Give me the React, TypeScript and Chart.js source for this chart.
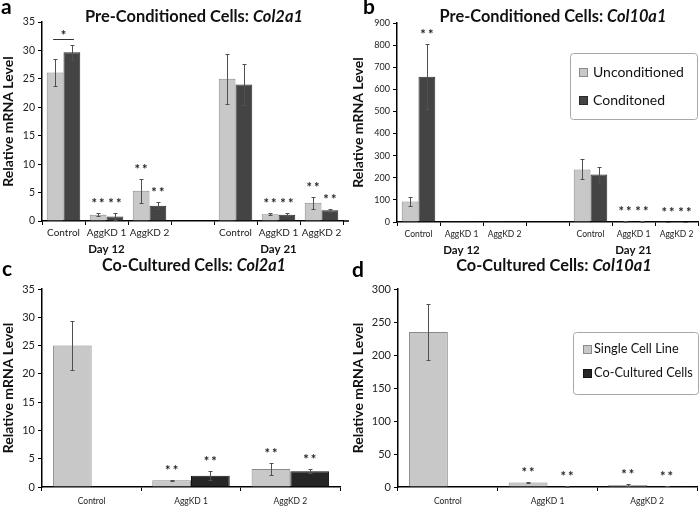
import React, { useEffect, useRef } from "react";
import { Chart, registerables } from "chart.js";
Chart.register(...registerables);

const FONT = "Lato, 'Open Sans', sans-serif";

// ---------- Panel a: Pre-Conditioned Cells, Col2a1 ----------
const dayCats = ["Control", "AggKD 1", "AggKD 2", "", "Control", "AggKD 1", "AggKD 2"];
const aUncond = [26.1, 1.1, 5.3, null, 25.0, 1.2, 3.2];
const aUncondErr = [2.4, 0.3, 2.1, null, 4.4, 0.15, 1.1];
const aCond = [29.7, 0.8, 2.7, null, 24.0, 1.1, 1.9];
const aCondErr = [1.3, 0.6, 0.6, null, 3.6, 0.3, 0.25];
const aUncondStars = ["", "**", "**", "", "", "**", "**"];
const aCondStars = ["", "**", "**", "", "", "**", "**"];

// ---------- Panel b: Pre-Conditioned Cells, Col10a1 ----------
const bUncond = [93, 1.2, 0.8, null, 238, 3.0, 1.2];
const bUncondErr = [20, 0, 0, null, 45, 1.0, 0.4];
const bCond = [657, 0.8, 0.6, null, 215, 2.4, 1.0];
const bCondErr = [148, 0, 0, null, 33, 0.6, 0.3];
const bUncondStars = ["", "", "", "", "", "**", "**"];
const bCondStars = ["**", "", "", "", "", "**", "**"];

const dayLabels = ["Day 12", "Day 21"];
const dayLabelIndex = [1, 5];

// ---------- Panel c: Co-Cultured Cells, Col2a1 ----------
const coCats = ["Control", "AggKD 1", "AggKD 2"];
const cSingle = [25.0, 1.2, 3.2];
const cSingleErr = [4.3, 0.1, 1.0];
const cCo = [null, 2.0, 2.8];
const cCoErr = [null, 0.8, 0.4];
const cSingleStars = ["", "**", "**"];
const cCoStars = ["", "**", "**"];

// ---------- Panel d: Co-Cultured Cells, Col10a1 ----------
const dSingle = [235, 7.0, 3.0];
const dSingleErr = [43, 1.2, 1.2];
const dCo = [null, 0.6, 1.5];
const dCoErr = [null, 0.3, 0.3];
const dSingleStars = ["", "**", "**"];
const dCoStars = ["", "**", "**"];

const LIGHT = "#c8c8c8";
const LIGHT_B = "#8a8a8a";
const DARK_AB = "#444444";
const DARK_AB_B = "#2a2a2a";
const DARK_CD = "#262626";
const DARK_CD_B = "#111111";

type Series = {
  label: string;
  data: (number | null)[];
  err: (number | null)[];
  stars: string[];
  fill: string;
  border: string;
};

type PanelCfg = {
  x: number; y: number; w: number; h: number;
  plot: { l: number; r: number; t: number; b: number };
  labels: string[];
  series: Series[];
  yMax: number; yStep: number;
  yTickSize: number; xTickSize: number; xTickPad: number;
  title: [string, string]; titleX: number; titleY: number; titleW: number;
  letter: string; letterX: number; letterY: number;
  legend?: { x: number; y: number; w: number; h: number; textW: number; rows: number[]; sw: number; tx: number };
  days?: boolean;
  bracket?: boolean;
  axisExtend?: number;
};

function makeDecor(cfg: PanelCfg) {
  return {
    id: "decor",
    afterDatasetsDraw(chart: any) {
      const ctx = chart.ctx;
      const ys = chart.scales.y;
      ctx.save();
      cfg.series.forEach((s, i) => {
        const meta = chart.getDatasetMeta(i);
        meta.data.forEach((el: any, j: number) => {
          const v = s.data[j];
          const e = s.err[j];
          if (v == null || e == null || e === 0) return;
          const px = Math.round(el.x) + 0.5;
          const yt = Math.round(ys.getPixelForValue(v + e)) + 0.5;
          const yb = Math.round(ys.getPixelForValue(Math.max(0, v - e))) + 0.5;
          ctx.strokeStyle = "#505050";
          ctx.lineWidth = 1;
          ctx.beginPath();
          ctx.moveTo(px, yt); ctx.lineTo(px, yb);
          ctx.moveTo(px - 2, yt); ctx.lineTo(px + 2, yt);
          ctx.moveTo(px - 2, yb); ctx.lineTo(px + 2, yb);
          ctx.stroke();
        });
      });
      // significance stars
      ctx.fillStyle = "#222";
      ctx.font = `bold 13px ${FONT}`;
      ctx.textAlign = "center";
      ctx.textBaseline = "alphabetic";
      try { (ctx as any).letterSpacing = "2px"; } catch (e) {}
      cfg.series.forEach((s, i) => {
        const meta = chart.getDatasetMeta(i);
        meta.data.forEach((el: any, j: number) => {
          if (!s.stars[j]) return;
          const v = s.data[j] ?? 0;
          const e = s.err[j] ?? 0;
          const top = ys.getPixelForValue(v + e);
          ctx.fillText(s.stars[j], el.x + 1, top - 5);
        });
      });
      try { (ctx as any).letterSpacing = "0px"; } catch (e) {}
      ctx.restore();
    },
    afterDraw(chart: any) {
      const ctx = chart.ctx;
      const xs = chart.scales.x;
      const ys = chart.scales.y;
      const area = chart.chartArea;
      ctx.save();
      // title (bold + bold italic), sized to the reference width
      ctx.fillStyle = "#111";
      ctx.textBaseline = "middle";
      ctx.textAlign = "left";
      const measure = (size: number) => {
        ctx.font = `bold ${size}px ${FONT}`;
        const a = ctx.measureText(cfg.title[0]).width;
        ctx.font = `italic bold ${size}px ${FONT}`;
        const b = ctx.measureText(cfg.title[1]).width;
        return [a, b];
      };
      const [m1, m2] = measure(20);
      const tSize = (20 * cfg.titleW) / (m1 + m2);
      const [w1, w2] = measure(tSize);
      const sx = cfg.titleX - (w1 + w2) / 2;
      ctx.font = `bold ${tSize}px ${FONT}`;
      ctx.fillText(cfg.title[0], sx, cfg.titleY);
      ctx.font = `italic bold ${tSize}px ${FONT}`;
      ctx.fillText(cfg.title[1], sx + w1, cfg.titleY);
      // panel letter
      ctx.font = `bold 21px ${FONT}`;
      ctx.textBaseline = "alphabetic";
      ctx.fillStyle = "#000";
      ctx.fillText(cfg.letter, cfg.letterX, cfg.letterY);
      // axis extension
      if (cfg.axisExtend) {
        ctx.strokeStyle = "#000";
        ctx.lineWidth = 1.5;
        ctx.beginPath();
        ctx.moveTo(area.right, area.bottom);
        ctx.lineTo(area.right + cfg.axisExtend, area.bottom);
        ctx.stroke();
      }
      // day labels
      if (cfg.days) {
        ctx.font = `bold 11.5px ${FONT}`;
        ctx.textAlign = "center";
        ctx.textBaseline = "middle";
        ctx.fillStyle = "#111";
        dayLabels.forEach((t, k) => {
          ctx.fillText(t, xs.getPixelForValue(dayLabelIndex[k]), area.bottom + 28);
        });
      }
      // bracket
      if (cfg.bracket) {
        const m0 = chart.getDatasetMeta(0).data[0];
        const mb = chart.getDatasetMeta(1).data[0];
        const s0 = cfg.series[0], s1 = cfg.series[1];
        const top = Math.min(
          ys.getPixelForValue((s0.data[0] ?? 0) + (s0.err[0] ?? 0)),
          ys.getPixelForValue((s1.data[0] ?? 0) + (s1.err[0] ?? 0))
        );
        const ly = Math.round(top - 6) + 0.5;
        ctx.strokeStyle = "#333";
        ctx.lineWidth = 1;
        ctx.beginPath();
        ctx.moveTo(m0.x - 2, ly);
        ctx.lineTo(mb.x + 2, ly);
        ctx.stroke();
        ctx.font = `bold 13px ${FONT}`;
        ctx.textAlign = "center";
        ctx.textBaseline = "alphabetic";
        ctx.fillStyle = "#222";
        ctx.fillText("*", (m0.x + mb.x) / 2, ly);
      }
      // legend
      if (cfg.legend) {
        const L = cfg.legend;
        ctx.fillStyle = "#fff";
        ctx.strokeStyle = "#a8a8a8";
        ctx.lineWidth = 1;
        ctx.beginPath();
        (ctx as any).roundRect(L.x + 0.5, L.y + 0.5, L.w, L.h, 3);
        ctx.fill();
        ctx.stroke();
        ctx.font = `20px ${FONT}`;
        const longest = Math.max(...cfg.series.map((s) => ctx.measureText(s.label).width));
        const fSize = (20 * L.textW) / longest;
        ctx.font = `${fSize}px ${FONT}`;
        ctx.textAlign = "left";
        ctx.textBaseline = "middle";
        cfg.series.forEach((s, i) => {
          const ry = L.y + L.rows[i];
          ctx.fillStyle = s.fill;
          ctx.strokeStyle = s.border;
          ctx.fillRect(L.x + L.sw, ry - 4, 9, 9);
          ctx.strokeRect(L.x + L.sw + 0.5, ry - 3.5, 8, 8);
          ctx.fillStyle = "#111";
          ctx.fillText(s.label, L.x + L.tx, ry);
        });
      }
      ctx.restore();
    },
  };
}

function Panel({ cfg }: { cfg: PanelCfg }) {
  const ref = useRef<HTMLCanvasElement | null>(null);
  useEffect(() => {
    if (!ref.current) return;
    const chart = new Chart(ref.current, {
      type: "bar",
      data: {
        labels: cfg.labels,
        datasets: cfg.series.map((s) => ({
          label: s.label,
          data: s.data as any,
          backgroundColor: s.fill,
          borderColor: s.border,
          borderWidth: 1,
          categoryPercentage: 0.78,
          barPercentage: 1.0,
        })),
      },
      options: {
        responsive: false,
        animation: false,
        devicePixelRatio: 1,
        layout: {
          padding: { left: 0, top: cfg.plot.t, right: cfg.w - cfg.plot.r, bottom: 0 },
        },
        plugins: {
          legend: { display: false },
          title: { display: false },
          tooltip: { enabled: false },
        },
        scales: {
          x: {
            grid: { display: true, drawOnChartArea: false, drawTicks: true, tickLength: 4, color: "#000", offset: true },
            border: { display: true, color: "#000", width: 1.5 },
            ticks: {
              font: { family: FONT, size: cfg.xTickSize },
              color: "#222",
              padding: cfg.xTickPad,
              maxRotation: 0,
              autoSkip: false,
            },
            afterFit: (s: any) => { s.height = cfg.h - cfg.plot.b; },
          },
          y: {
            min: 0,
            max: cfg.yMax,
            grid: { display: true, drawOnChartArea: false, drawTicks: true, tickLength: 4, color: "#000" },
            border: { display: true, color: "#000", width: 1.5 },
            ticks: {
              stepSize: cfg.yStep,
              font: { family: FONT, size: cfg.yTickSize },
              color: "#222",
              padding: 3,
            },
            title: {
              display: true,
              text: "Relative mRNA Level",
              font: { family: FONT, size: 14, weight: "bold" },
              color: "#111",
              padding: { top: 0, bottom: 0 },
            },
            afterFit: (s: any) => { s.width = cfg.plot.l; },
          },
        },
      },
      plugins: [makeDecor(cfg)],
    } as any);
    return () => chart.destroy();
  }, []);
  return (
    <canvas
      ref={ref}
      width={cfg.w}
      height={cfg.h}
      style={{ position: "absolute", left: cfg.x, top: cfg.y, width: cfg.w, height: cfg.h }}
    />
  );
}

const panelA: PanelCfg = {
  x: 0, y: 0, w: 350, h: 262,
  plot: { l: 42, r: 343, t: 22, b: 221 },
  labels: dayCats,
  series: [
    { label: "Unconditioned", data: aUncond, err: aUncondErr, stars: aUncondStars, fill: LIGHT, border: LIGHT_B },
    { label: "Conditoned", data: aCond, err: aCondErr, stars: aCondStars, fill: DARK_AB, border: DARK_AB_B },
  ],
  yMax: 35, yStep: 5, yTickSize: 10.5, xTickSize: 10, xTickPad: 2,
  title: ["Pre-Conditioned Cells: ", "Col2a1"], titleX: 194, titleY: 17, titleW: 218,
  letter: "a", letterX: 1, letterY: 14,
  days: true, bracket: true, axisExtend: 6,
};

const panelB: PanelCfg = {
  x: 350, y: 0, w: 350, h: 262,
  plot: { l: 47, r: 348, t: 23, b: 222 },
  labels: dayCats,
  series: [
    { label: "Unconditioned", data: bUncond, err: bUncondErr, stars: bUncondStars, fill: LIGHT, border: LIGHT_B },
    { label: "Conditoned", data: bCond, err: bCondErr, stars: bCondStars, fill: DARK_AB, border: DARK_AB_B },
  ],
  yMax: 900, yStep: 100, yTickSize: 9, xTickSize: 8.5, xTickPad: 3,
  title: ["Pre-Conditioned Cells: ", "Col10a1"], titleX: 203, titleY: 17, titleW: 227,
  letter: "b", letterX: 13, letterY: 14,
  legend: { x: 220, y: 53, w: 127, h: 66, textW: 91, rows: [19, 47], sw: 9, tx: 23 },
  days: true,
};

const panelC: PanelCfg = {
  x: 0, y: 250, w: 350, h: 258,
  plot: { l: 42, r: 340, t: 39, b: 237 },
  labels: coCats,
  series: [
    { label: "Single Cell Line", data: cSingle, err: cSingleErr, stars: cSingleStars, fill: LIGHT, border: LIGHT_B },
    { label: "Co-Cultured Cells", data: cCo, err: cCoErr, stars: cCoStars, fill: DARK_CD, border: DARK_CD_B },
  ],
  yMax: 35, yStep: 5, yTickSize: 11, xTickSize: 8.5, xTickPad: 5,
  title: ["Co-Cultured Cells: ", "Col2a1"], titleX: 194, titleY: 16, titleW: 184,
  letter: "c", letterX: 2, letterY: 26,
};

const panelD: PanelCfg = {
  x: 350, y: 250, w: 350, h: 258,
  plot: { l: 48, r: 347, t: 39, b: 237 },
  labels: coCats,
  series: [
    { label: "Single Cell Line", data: dSingle, err: dSingleErr, stars: dSingleStars, fill: LIGHT, border: LIGHT_B },
    { label: "Co-Cultured Cells", data: dCo, err: dCoErr, stars: dCoStars, fill: DARK_CD, border: DARK_CD_B },
  ],
  yMax: 300, yStep: 50, yTickSize: 11, xTickSize: 8.5, xTickPad: 5,
  title: ["Co-Cultured Cells: ", "Col10a1"], titleX: 204, titleY: 16, titleW: 196,
  letter: "d", letterX: 2, letterY: 27,
  legend: { x: 223, y: 82, w: 125, h: 62, textW: 99, rows: [17, 41], sw: 10, tx: 21 },
};

export default function App() {
  return (
    <div style={{ position: "absolute", left: 0, top: 0, width: 700, height: 508, background: "#fff", overflow: "hidden" }}>
      <Panel cfg={panelA} />
      <Panel cfg={panelB} />
      <Panel cfg={panelC} />
      <Panel cfg={panelD} />
    </div>
  );
}
